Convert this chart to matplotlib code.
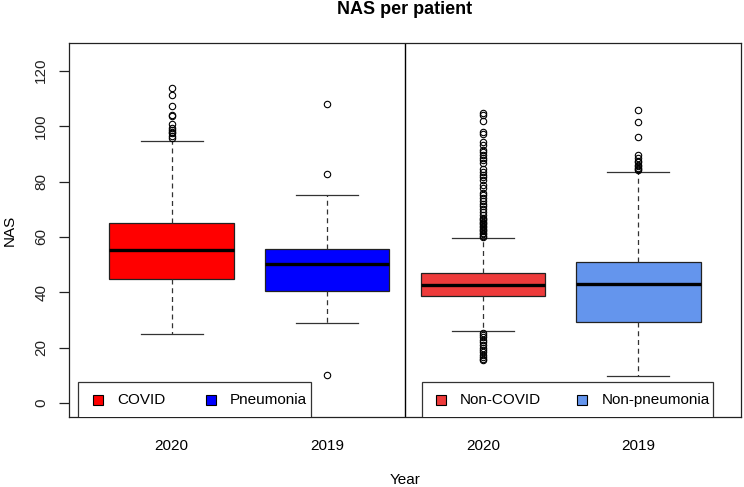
import numpy as np
import matplotlib
matplotlib.use('Agg')
import matplotlib.pyplot as plt
from matplotlib.patches import Rectangle

plt.rcParams['font.family'] = 'Liberation Sans'
plt.rcParams['font.size'] = 11

groups = ['COVID', 'Pneumonia', 'Non-COVID', 'Non-pneumonia']
years = ['2020', '2019', '2020', '2019']
colors = ['#FF0000', '#0000FF', '#EE3B3B', '#6495ED']

q1 = [44.7, 40.4, 38.6, 29.4]
med = [55.4, 50.3, 42.8, 43.1]
q3 = [65.1, 55.7, 46.8, 50.9]
whislo = [25.0, 29.0, 26.0, 9.9]
whishi = [94.6, 75.0, 59.6, 83.3]

out_covid = [113.8, 111.4, 107.1, 103.9, 103.5, 100.9, 99.3, 98.5, 98.0,
             97.6, 96.3, 95.6]
out_pneu = [108.1, 82.7, 10.0]
out_noncovid = [104.8, 104.0, 101.7, 98.0, 97.3, 94.1, 93.3, 91.5, 90.5,
                89.5, 88.6, 87.7, 86.8, 84.6, 83.5, 82.5, 81.5, 80.6, 78.8,
                77.8, 76.0, 75.0, 74.0, 73.0, 72.0, 71.0, 70.0, 69.0, 68.0,
                67.0, 66.5, 66.0, 65.5, 65.0, 64.5, 64.0, 63.5, 63.0, 62.5,
                62.0, 61.5, 61.0, 60.5, 60.0,
                25.4, 24.6, 23.7, 22.8, 21.9, 21.0, 20.0, 19.2, 18.4, 17.5,
                16.6, 16.0, 15.5]
out_nonpneu = [105.7, 101.5, 96.0, 89.5, 88.5, 87.5, 87.0, 86.0, 85.5,
               85.0, 84.5, 84.0]
fliers = [out_covid, out_pneu, out_noncovid, out_nonpneu]

stats = []
for i in range(4):
    stats.append(dict(med=med[i], q1=q1[i], q3=q3[i], whislo=whislo[i],
                      whishi=whishi[i], fliers=fliers[i], label=years[i]))

fig = plt.figure(figsize=(7.44, 4.87), dpi=100)
W, H = 744, 487
ax = fig.add_axes([69 / W, 1 - 417 / H, (741 - 69) / W, (417 - 43) / H])

bp = ax.bxp(stats, positions=[1, 2, 3, 4], widths=0.8, patch_artist=True,
            showcaps=True,
            boxprops=dict(edgecolor='#222222', linewidth=0.9),
            medianprops=dict(color='black', linewidth=2.4, solid_capstyle='butt'),
            whiskerprops=dict(color='#333333', linewidth=0.9, linestyle=(0, (4, 3))),
            capprops=dict(color='#333333', linewidth=0.9),
            flierprops=dict(marker='o', markerfacecolor='none',
                            markeredgecolor='black', markersize=4.6,
                            markeredgewidth=0.8))
for patch, c in zip(bp['boxes'], colors):
    patch.set_facecolor(c)
for cap in bp['caps']:
    x0, x1 = cap.get_xdata()
    xc = (x0 + x1) / 2
    cap.set_xdata([xc - 0.2, xc + 0.2])

ax.set_xlim(0.34, 4.66)
ax.set_ylim(-5, 130)
ax.axvline(2.5, color='black', linewidth=1)

ax.set_yticks([0, 20, 40, 60, 80, 100, 120])
ax.tick_params(axis='y', length=7, width=0.9, pad=8, labelrotation=90,
               labelsize=11, colors='#222222')
for lab in ax.get_yticklabels():
    lab.set_va('center')
ax.tick_params(axis='x', length=0, pad=16, labelsize=11)
for s in ax.spines.values():
    s.set_color('#222222')
    s.set_linewidth(0.9)

# legends
def legend_box(x0, x1, items):
    r = Rectangle((x0, -8), x1 - x0, 15.7, facecolor='white',
                  edgecolor='#333333', linewidth=0.9, zorder=5)
    ax.add_patch(r)
    for xs, xt, label, c in items:
        ax.plot([xs], [1.1], marker='s', markersize=7.5, color=c,
                markeredgecolor='black', markeredgewidth=0.8, zorder=6)
        ax.text(xt, 1.1, label, va='center', ha='left', fontsize=11, zorder=6)

legend_box(0.398, 1.895, [(0.528, 0.647, groups[0], colors[0]),
                          (1.251, 1.375, groups[1], colors[1])])
legend_box(2.609, 4.479, [(2.729, 2.853, groups[2], colors[2]),
                          (3.641, 3.763, groups[3], colors[3])])

fig.text(405 / W, 1 - 9 / H, 'NAS per patient', ha='center', va='center',
         fontsize=13, fontweight='bold')
fig.text(10 / W, 1 - 230 / H, 'NAS', ha='center', va='center', rotation=90,
         fontsize=11)
fig.text(405 / W, 1 - 480 / H, 'Year', ha='center', va='center', fontsize=11)

fig.savefig('out.png', dpi=100)
